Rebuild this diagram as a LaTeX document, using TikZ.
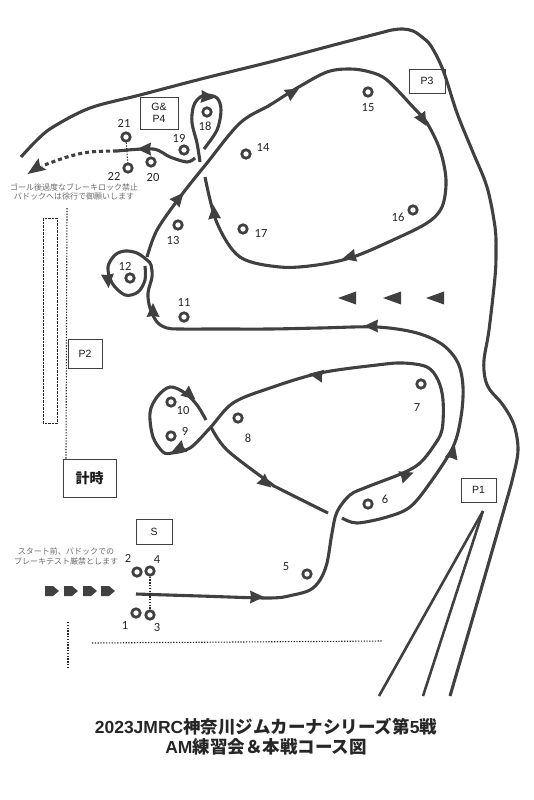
\documentclass[tikz,border=0pt]{standalone}
\usepackage{fontspec}
\setmainfont{Carlito}
\newfontfamily\cjkfont{Noto Sans CJK JP}
\newfontfamily\boxfont{Liberation Sans}
\definecolor{trackgray}{HTML}{404040}
\definecolor{notegray}{HTML}{6A6A6A}
\tikzset{
	track/.style={draw=trackgray, line width=3.1pt},
	thintrack/.style={draw=trackgray, line width=2.6pt},
	cone/.style={circle, draw=trackgray, line width=2.7pt, minimum size=8.5pt, inner sep=0pt},
	conelabel/.style={font=\fontsize{12.5}{12.5}\selectfont, text=black!85, inner sep=0pt},
	infobox/.style={draw=black!75, line width=0.8pt, inner sep=0pt, font=\boxfont\fontsize{10.5}{12.5}\selectfont, align=center, text=black!90},
	fence/.style={draw=black!85, line width=1.1pt, dash pattern=on 1.3pt off 1.5pt},
	note/.style={font=\cjkfont\fontsize{8}{9.5}\selectfont, text=notegray, align=center, inner sep=0pt},
	coursetitle/.style={font=\cjkfont\bfseries\fontsize{17.5}{20}\selectfont, text=black!85, inner sep=0pt},
}
\begin{document}
\begin{tikzpicture}[x=1pt, y=-1pt]
	\useasboundingbox (0,0) rectangle (533,800);

	% Outer fence
	\draw[track] plot[smooth, tension=0.55] coordinates {(21,157) (37,140) (53,127) (90,108) (140,95) (205,78) (270,62) (330,46) (380,33) (392,30) (403,29) (413,31) (422,37) (431,46) (443,70) (457,113) (472,150) (487,187) (495,227) (496,252) (495,277) (489,330) (484,360) (485,378) (490,390) (503,405) (514,425) (518,450) (513,477) (503,513) (478,600) (450,696)};

	% Paddock lanes
	\coordinate (apex) at (483,511);
	\coordinate (laneA) at (379,696);
	\coordinate (laneB) at (423,696);
	\draw[thintrack] (apex) -- (laneA);
	\draw[thintrack] (apex) -- (laneB);

	% Course: start to the crossing at 8
	\draw[track] plot[smooth, tension=0.55] coordinates {(136,594) (200,596) (270,598) (293,595) (310,590) (320,580) (327,563) (332,533) (337,512) (350,495) (367,487) (403,473) (420,463) (433,447) (442,430) (443,400) (438,380) (427,367) (403,363) (377,365) (320,373) (270,388) (233,403) (210,428) (190,448) (172,453) (163,452) (153,437) (150,413) (157,397) (170,387) (185,393) (197,405) (206,420)};
	\draw[track] plot[smooth, tension=0.55] coordinates {(211,427) (227,450) (270,483) (278,488) (328,513)};

	% Course: 6 and 7 outside, back to 11 and 12
	\draw[track] plot[smooth, tension=0.55] coordinates {(342,518) (357,523) (387,517) (410,507) (430,483) (453,447) (461,417) (463,387) (458,363) (443,345) (417,333) (377,327) (320,328) (270,329) (220,329) (180,329) (167,328) (157,322) (150,308) (148,293) (152,277) (151,265) (147,260) (137,253) (125,251) (115,255) (108,267) (112,283) (125,295) (138,292) (145,280) (145,266)};

	% Course: 13 to 17 round the big loop
	\draw[track] plot[smooth, tension=0.55] coordinates {(147,257) (157,230) (180,197) (207,163) (240,123) (270,105) (297,88) (327,72) (350,69) (370,72) (387,80) (413,107) (427,123) (440,150) (446,180) (442,207) (427,223) (393,240) (353,257) (317,265) (280,267) (240,257) (217,223) (205,177)};

	% Course: loop at 18
	\draw[track] plot[smooth, tension=0.55] coordinates {(200,162) (197,143) (192,123) (193,108) (197,100) (205,95) (217,98) (221,110) (217,130) (204,149)};

	% Course: 19 to the goal
	\draw[track] plot[smooth, tension=0.55] coordinates {(195,158) (187,162) (170,157) (153,149) (117,151)};
	\draw[track, dash pattern=on 4pt off 3pt] plot[smooth, tension=0.55] coordinates {(117,151) (90,152) (67,157) (42,166)};

	% Direction arrows
	\foreach \x/\y/\a in {257/597/0, 407/475/20, 453/452/75, 371/326/180, 316/375/170, 178/449/205, 190/395/-40, 266/483/-40, 153/310/90, 108/281/-85, 179/198/50, 214/212/95, 208/97/-5, 144/149/180, 293/92/30, 423/120/-60, 349/257/195}
		\fill[trackgray, shift={(\x,\y)}, rotate=\a] (7,0) -- (-7,6.5) -- (-6,0) -- (-7,-6.5) -- cycle;
	\fill[trackgray, shift={(35,169)}, rotate=214] (9,0) -- (-9,7) -- (-6,0) -- (-9,-7) -- cycle;

	% Waiting cars before the start
	\foreach \x in {45,64,83,101}
		\fill[trackgray, shift={(\x,591)}] (0,-5) -- (8,-5) -- (14,0) -- (8,5) -- (0,5) -- cycle;

	% Flow markers in the infield
	\foreach \x in {338,383,426}
		\fill[trackgray, shift={(\x,298)}] (0,0) -- (18,-6.5) -- (18,6.5) -- cycle;

	% Cones
	\foreach \x/\y/\lx/\ly/\n in {136/613/125/625/1, 137/572/128/558/2, 150/615/157/627/3, 150/571/157/559/4, 307/574/286/567/5, 368/504/385/499/6, 421/384/417/407/7, 238/418/248/438/8, 171/436/185/431/9, 171/402/183/410/10, 184/317/184/302/11, 130/278/125/266/12, 178/225/173/240/13, 246/154/263/147/14, 368/92/368/108/15, 413/210/398/217/16, 243/229/261/233/17, 207/112/205/126/18, 184/150/179/138/19, 151/162/153/177/20, 126/137/124/123/21, 128/168/114/176/22}{
		\node[cone] (cone\n) at (\x,\y) {};
		\node[conelabel] (num\n) at (\lx,\ly) {\n};
	}

	% Stop lines between cones
	\draw[fence] (cone21) -- (cone22);
	\draw[fence] (cone4) -- (cone3);

	% Boxes
	\node[infobox, minimum width=38pt, minimum height=32pt] (gp) at (159,113) {G\&\\P4};
	\node[infobox, minimum width=36pt, minimum height=24pt] (pthree) at (427,81) {P3};
	\node[infobox, minimum width=34pt, minimum height=29pt] (ptwo) at (85,353.5) {P2};
	\node[infobox, minimum width=35pt, minimum height=24pt] (pone) at (478.5,490) {P1};
	\node[infobox, minimum width=36pt, minimum height=25pt] (startbox) at (154,531.5) {S};
	\node[infobox, minimum width=53pt, minimum height=38pt, font=\cjkfont\bfseries\fontsize{14}{16}\selectfont] (timing) at (89.5,478) {計時};

	% Dotted lines
	\coordinate (fenceA) at (67,208);
	\coordinate (fenceB) at (66,459);
	\coordinate (fenceC) at (68,622);
	\coordinate (fenceD) at (68,668);
	\coordinate (fenceE) at (92,643);
	\coordinate (fenceF) at (383,641);
	\draw[fence] (fenceA) -- (fenceB);
	\draw[fence] (fenceC) -- (fenceD);
	\draw[fence] (fenceE) -- (fenceF);
	\draw[draw=black!85, line width=1pt, dash pattern=on 2.5pt off 1pt] (43,218) rectangle (57,423);

	% Notes
	\node[note] (goalnote) at (74,192) {ゴール後過度なブレーキロック禁止\\パドックへは徐行で御願いします};
	\node[note] (startnote) at (66,556.5) {スタート前、パドックでの\\ブレーキテスト厳禁とします};

	% Title
	\node[coursetitle] (titleA) at (266,727) {{\boxfont 2023JMRC}神奈川ジムカーナシリーズ第{\boxfont 5}戦};
	\node[coursetitle] (titleB) at (266,747) {{\boxfont AM}練習会＆本戦コース図};
\end{tikzpicture}
\end{document}
